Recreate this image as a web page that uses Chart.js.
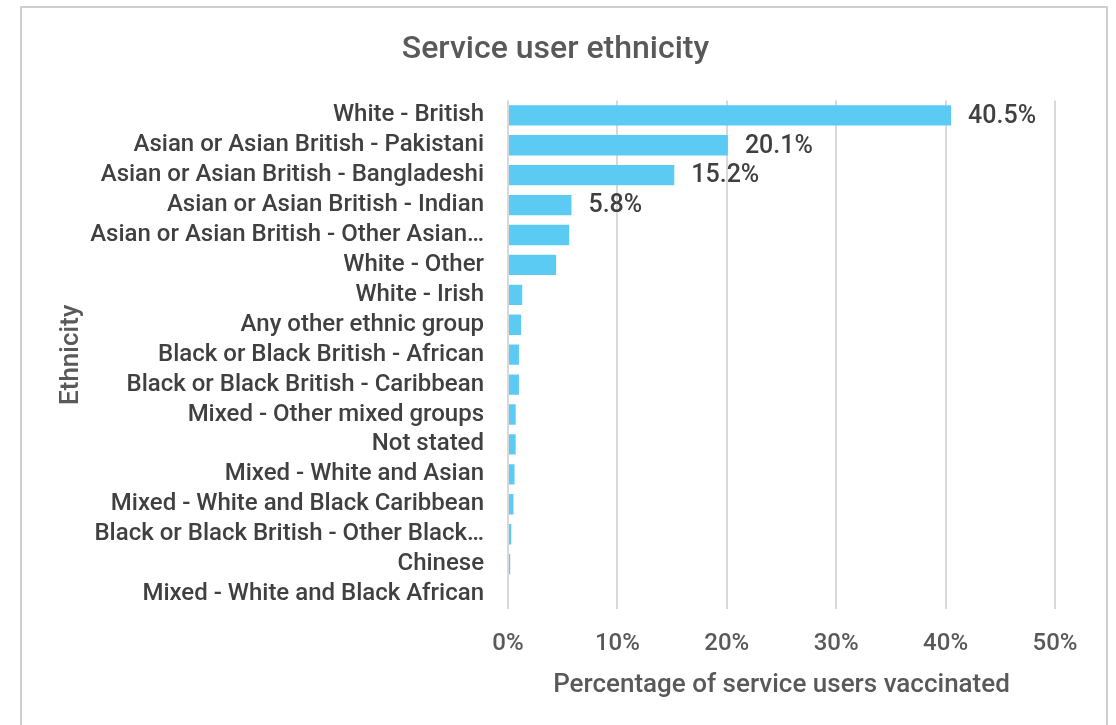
<!DOCTYPE html>
<html>
<head>
<meta charset="utf-8">
<script src="https://cdn.jsdelivr.net/npm/chart.js@4.4.1/dist/chart.umd.min.js"></script>
<style>
  html, body { margin: 0; padding: 0; background: #fff; }
  #wrap { position: relative; width: 1116px; height: 725px; overflow: hidden; }
  #frame { position: absolute; left: 20px; top: 6px; width: 1088px; height: 740px; border: 2px solid #cfcfcf; box-sizing: border-box; }
  #c { position: absolute; left: 0; top: 0; }
</style>
</head>
<body>
<div id="wrap">
  <div id="frame"></div>
  <canvas id="c" width="1116" height="725"></canvas>
</div>
<script>
var categories = [
    "White - British",
    "Asian or Asian British - Pakistani",
    "Asian or Asian British - Bangladeshi",
    "Asian or Asian British - Indian",
    "Asian or Asian British - Other Asian…",
    "White - Other",
    "White - Irish",
    "Any other ethnic group",
    "Black or Black British - African",
    "Black or Black British - Caribbean",
    "Mixed - Other mixed groups",
    "Not stated",
    "Mixed - White and Asian",
    "Mixed - White and Black Caribbean",
    "Black or Black British - Other Black…",
    "Chinese",
    "Mixed - White and Black African"
];
var percentVaccinated = [40.5, 20.1, 15.2, 5.8, 5.6, 4.4, 1.3, 1.2, 1.0, 1.0, 0.7, 0.7, 0.6, 0.5, 0.3, 0.2, 0.0];
var labelledBars = 4; // only the top bars carry a value label
var xTicks = [0, 10, 20, 30, 40, 50];

var fontFamily = "Roboto, 'DejaVu Sans', sans-serif";

// draws the value labels next to the first few bars
var valueLabels = {
    id: 'valueLabels',
    afterDatasetsDraw: function (chart) {
        var ctx = chart.ctx;
        var meta = chart.getDatasetMeta(0);
        ctx.save();
        ctx.font = '500 25px ' + fontFamily;
        ctx.fillStyle = '#404040';
        ctx.textBaseline = 'middle';
        ctx.textAlign = 'left';
        for (var i = 0; i < labelledBars; i++) {
            var bar = meta.data[i];
            ctx.fillText(percentVaccinated[i].toFixed(1) + '%', bar.x + 17, bar.y + 1);
        }
        ctx.restore();
    }
};

var ctx = document.getElementById('c').getContext('2d');
var chart = new Chart(ctx, {
    type: 'bar',
    data: {
        labels: categories,
        datasets: [{
            data: percentVaccinated,
            backgroundColor: '#5ccbf4',
            barPercentage: 0.68,
            categoryPercentage: 1.0
        }]
    },
    plugins: [valueLabels],
    options: {
        indexAxis: 'y',
        responsive: false,
        animation: false,
        layout: { padding: { left: 56, right: 61, top: 0, bottom: 16 } },
        plugins: {
            legend: { display: false },
            tooltip: { enabled: false },
            title: {
                display: true,
                text: 'Service user ethnicity',
                color: '#595959',
                font: { family: fontFamily, size: 32, weight: '500' },
                padding: { top: 31, bottom: 31 }
            }
        },
        scales: {
            x: {
                min: 0,
                max: 50,
                afterBuildTicks: function (scale) {
                    scale.ticks = xTicks.map(function (v) { return { value: v }; });
                },
                afterFit: function (scale) { scale.height = 100; },
                grid: { color: '#d9d9d9', lineWidth: 2, drawTicks: false },
                border: { display: false },
                ticks: {
                    color: '#595959',
                    padding: 21,
                    maxRotation: 0,
                    font: { family: fontFamily, size: 24, weight: '500' },
                    callback: function (v) { return v + '%'; }
                },
                title: {
                    display: true,
                    text: 'Percentage of service users vaccinated',
                    color: '#595959',
                    font: { family: fontFamily, size: 26, weight: '500' },
                    padding: { top: 4, bottom: 8 }
                }
            },
            y: {
                afterFit: function (scale) { scale.width = 452; },
                grid: { display: false },
                border: { display: false },
                ticks: {
                    color: '#404040',
                    padding: 16,
                    autoSkip: false,
                    font: { family: fontFamily, size: 24, weight: '500' }
                },
                title: {
                    display: true,
                    text: 'Ethnicity',
                    color: '#595959',
                    font: { family: fontFamily, size: 26, weight: '500' },
                    padding: { top: 0, bottom: 0 }
                }
            }
        }
    }
});
</script>
</body>
</html>
